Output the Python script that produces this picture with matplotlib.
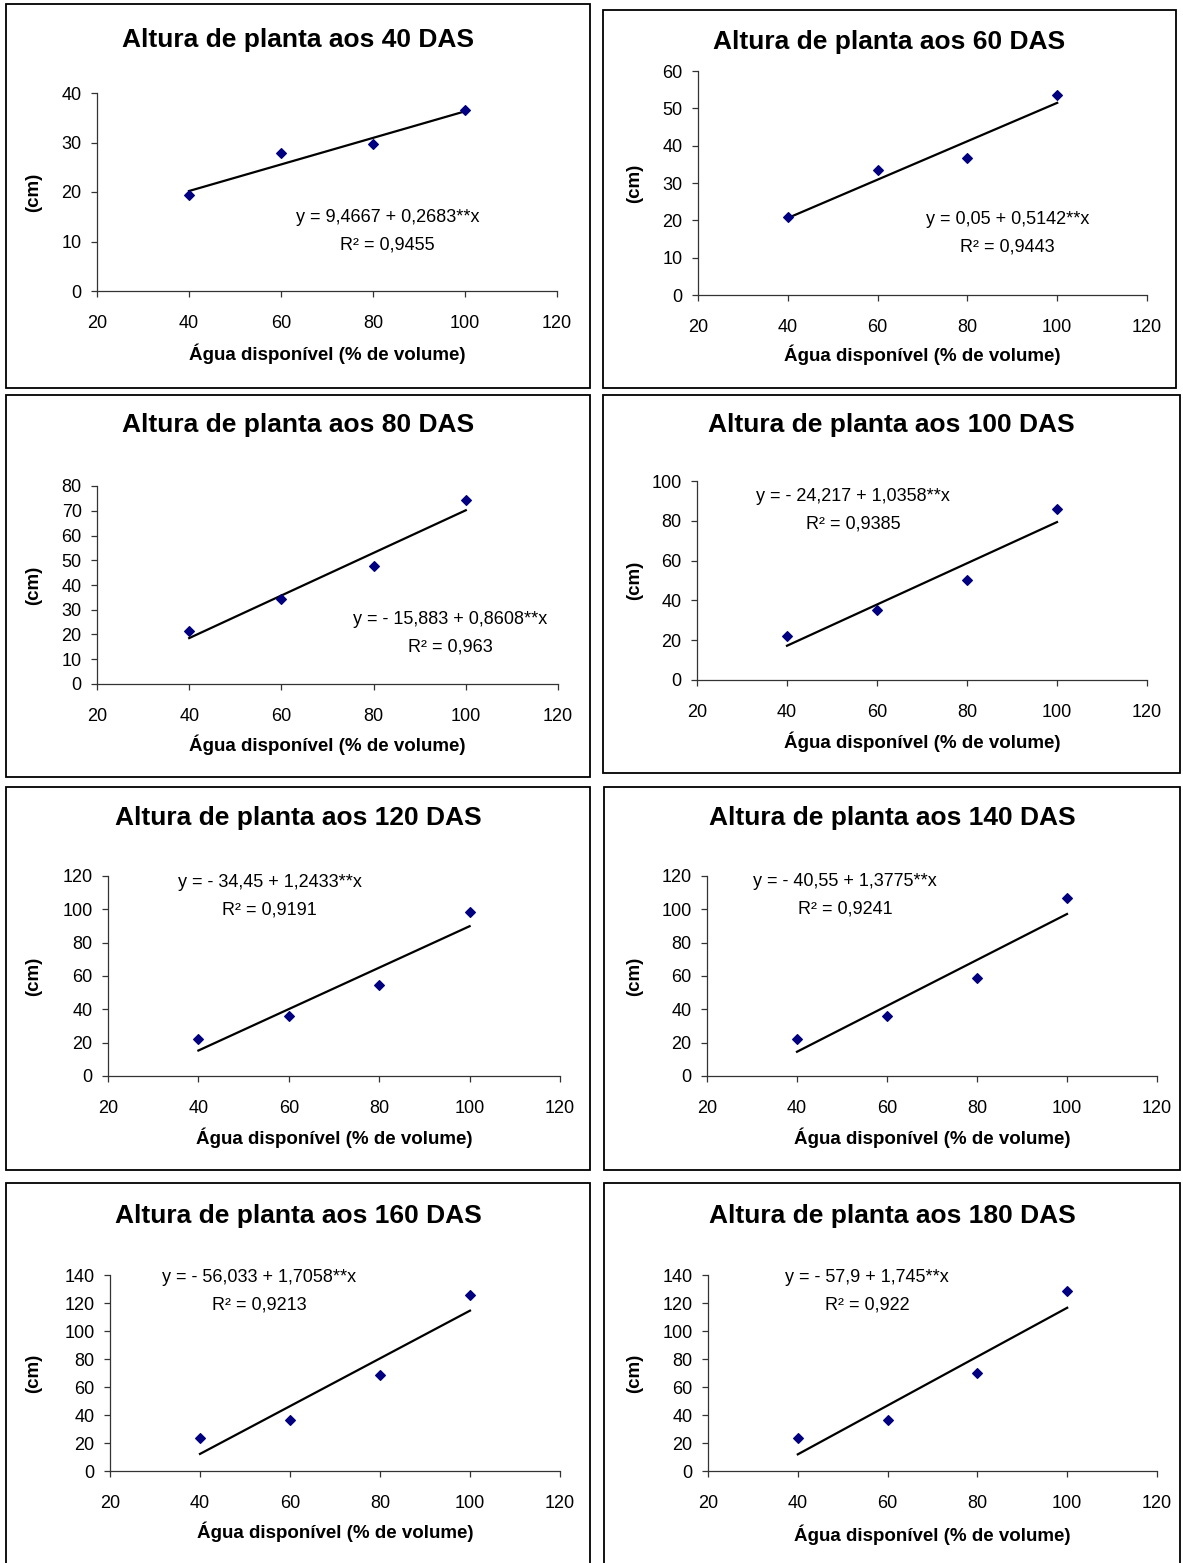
import numpy as np
import matplotlib.pyplot as plt
from matplotlib.patches import Rectangle

plt.rcParams['font.family'] = ['Liberation Sans', 'DejaVu Sans']

# water available (% of volume)
agua = [40, 60, 80, 100]
das = [40, 60, 80, 100, 120, 140, 160, 180]

# plant height (cm) per panel
alturas = [
    [19.3, 27.9, 29.7, 36.5],
    [20.8, 33.4, 36.8, 53.6],
    [21.5, 34.5, 47.5, 74.5],
    [22.1, 35.2, 50.3, 85.8],
    [22.2, 35.8, 54.5, 98.2],
    [22.2, 36.0, 58.8, 106.8],
    [23.4, 36.7, 68.6, 126.0],
    [23.4, 36.7, 69.8, 128.6],
]
intercepto = [9.4667, 0.05, -15.883, -24.217, -34.45, -40.55, -56.033, -57.9]
inclinacao = [0.2683, 0.5142, 0.8608, 1.0358, 1.2433, 1.3775, 1.7058, 1.745]
eq_txt = [
    "y = 9,4667 + 0,2683**x",
    "y = 0,05 + 0,5142**x",
    "y = - 15,883 + 0,8608**x",
    "y = - 24,217 + 1,0358**x",
    "y = - 34,45 + 1,2433**x",
    "y = - 40,55 + 1,3775**x",
    "y = - 56,033 + 1,7058**x",
    "y = - 57,9 + 1,745**x",
]
r2_txt = ["0,9455", "0,9443", "0,963", "0,9385", "0,9191", "0,9241", "0,9213", "0,922"]
y_max = [40, 60, 80, 100, 120, 120, 140, 140]
y_step = [10, 10, 10, 20, 20, 20, 20, 20]

W, H = 1183, 1563
fig = plt.figure(figsize=(W / 100, H / 100), dpi=100)

# layout in pixels
ax_box = [  # x0, x1, ytop, ybottom
    (97, 557, 93, 291), (698, 1147, 71, 295),
    (97, 558, 486, 684), (697, 1147, 481, 680),
    (108, 560, 876, 1076), (707, 1157, 876, 1076),
    (110, 560, 1275, 1471), (708, 1157, 1275, 1471),
]
panel_box = [  # x0, y0, x1, y1
    (6, 4, 590, 388), (603, 10, 1176, 388),
    (6, 395, 590, 777), (603, 395, 1180, 773),
    (6, 787, 590, 1170), (604, 787, 1180, 1170),
    (6, 1183, 590, 1575), (604, 1183, 1180, 1575),
]
title_y = [40, 42, 425, 425, 818, 818, 1216, 1216]
xlabel_y = [354, 355, 745, 742, 1138, 1138, 1532, 1535]
eq_pos = [(0.632, 0.303), (0.69, 0.275), (0.766, 0.258), (0.347, 0.854),
          (0.358, 0.9), (0.307, 0.905), (0.332, 0.917), (0.354, 0.917)]

for i in range(8):
    px0, py0, px1, py1 = panel_box[i]
    fig.patches.append(Rectangle((px0 / W, 1 - py1 / H), (px1 - px0) / W, (py1 - py0) / H,
                                 transform=fig.transFigure, fill=False,
                                 edgecolor='black', lw=1.3))
    x0, x1, yt, yb = ax_box[i]
    ax = fig.add_axes([x0 / W, 1 - yb / H, (x1 - x0) / W, (yb - yt) / H])
    ax.scatter(agua, alturas[i], marker='D', s=24, color='#000080', zorder=3)
    xl = np.array([agua[0], agua[-1]])
    ax.plot(xl, intercepto[i] + inclinacao[i] * xl, color='black', lw=1.6)
    ax.set_xlim(20, 120)
    ax.set_ylim(0, y_max[i])
    ax.set_xticks(range(20, 121, 20))
    ax.set_yticks(range(0, y_max[i] + 1, y_step[i]))
    for s in ['top', 'right']:
        ax.spines[s].set_visible(False)
    for s in ['left', 'bottom']:
        ax.spines[s].set_color('#333333')
        ax.spines[s].set_linewidth(0.9)
    ax.tick_params(axis='x', direction='out', length=4, width=0.9, color='#333333',
                   labelsize=13, pad=13)
    ax.tick_params(axis='y', direction='out', length=4, width=0.9, color='#333333',
                   labelsize=13, pad=7)
    fx, fy = eq_pos[i]
    ax.annotate(eq_txt[i], (fx, fy), xycoords='axes fraction', xytext=(0, 10),
                textcoords='offset points', ha='center', va='center', fontsize=13)
    ax.annotate("R² = " + r2_txt[i], (fx, fy), xycoords='axes fraction', xytext=(0, -10),
                textcoords='offset points', ha='center', va='center', fontsize=13)

    cx = (px0 + px1) / 2
    fig.text(cx / W, 1 - title_y[i] / H, f"Altura de planta aos {das[i]} DAS",
             ha='center', va='center', fontsize=19, fontweight='bold')
    fig.text((x0 + x1) / 2 / W, 1 - xlabel_y[i] / H, "Água disponível (% de volume)",
             ha='center', va='center', fontsize=13.5, fontweight='bold')
    ylx = 34 if i % 2 == 0 else 635
    fig.text(ylx / W, 1 - (yt + yb) / 2 / H, "(cm)", rotation=90,
             ha='center', va='center', fontsize=13.5, fontweight='bold')

fig.savefig('out.png', dpi=100)
